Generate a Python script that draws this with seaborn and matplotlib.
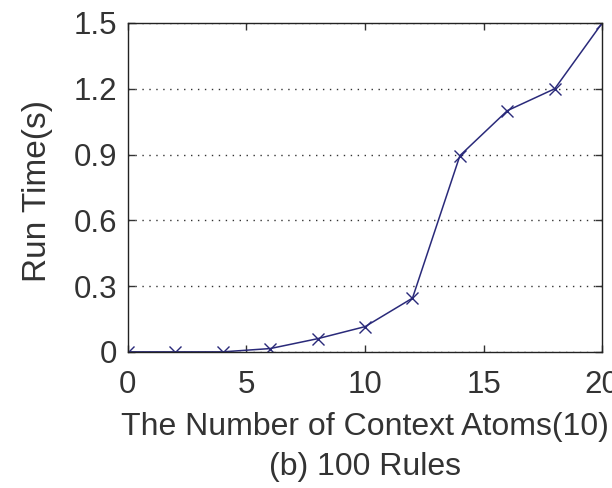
# Import Libraries
import pandas as pd
import seaborn as sns
import matplotlib
matplotlib.use('Agg')
import matplotlib.pyplot as plt

# Data
context_atoms = [0, 2, 4, 6, 8, 10, 12, 14, 16, 18, 20]
run_time = [0.0, 0.0, 0.0, 0.015, 0.06, 0.115, 0.245, 0.895, 1.10, 1.20, 1.50]
x_ticks = [0, 5, 10, 15, 20]
y_ticks = [0, 0.3, 0.6, 0.9, 1.2, 1.5]
y_tick_labels = ['0', '0.3', '0.6', '0.9', '1.2', '1.5']

df = pd.DataFrame({'atoms': context_atoms, 'time': run_time})

sns.set_style('ticks')
plt.rcParams['font.family'] = ['Liberation Sans', 'DejaVu Sans']

fig = plt.figure(figsize = (6.12, 4.88), dpi = 100)
ax = fig.add_axes([0.209, 0.279, 0.775, 0.674])

sns.lineplot(
    data = df,
    x = 'atoms',
    y = 'time',
    ax = ax,
    color = '#2a2a7a',
    linewidth = 1.1,
    marker = 'x',
    markersize = 9,
    markeredgewidth = 1.0,
    markeredgecolor = '#2a2a7a'
)

ax.set_xlim(0, 20)
ax.set_ylim(0, 1.5)
ax.set_xticks(x_ticks)
ax.set_yticks(y_ticks)
ax.set_yticklabels(y_tick_labels)
ax.yaxis.grid(True, linestyle = (0, (1, 4)), color = '#333333', linewidth = 1.0)
ax.xaxis.grid(False)

for side in ['top', 'right', 'left', 'bottom']:
    ax.spines[side].set_visible(True)
    ax.spines[side].set_color('#222222')
    ax.spines[side].set_linewidth(1.0)

ax.tick_params(direction = 'in', length = 5, width = 1, top = True, right = True,
               labelsize = 22.5, colors = '#333333')
ax.tick_params(axis = 'x', pad = 13)
ax.tick_params(axis = 'y', pad = 8)

ax.set_xlabel('The Number of Context Atoms(10)\n(b) 100 Rules', fontsize = 23,
              labelpad = 9, linespacing = 1.4, color = '#333333')
ax.set_ylabel('Run Time(s)', fontsize = 24, color = '#333333')
ax.yaxis.set_label_coords(-0.158, 0.49)

fig.savefig('out.png', dpi = 100, facecolor = 'white')
